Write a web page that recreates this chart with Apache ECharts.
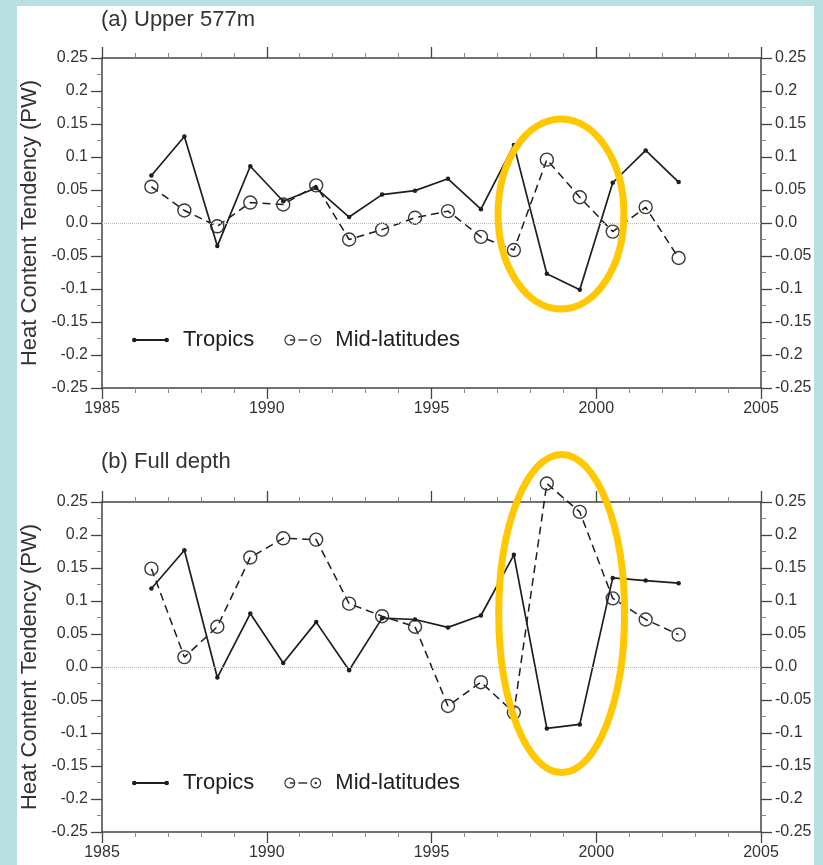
<!DOCTYPE html>
<html lang="en">
  <head>
    <meta charset="UTF-8" />
    <title>Heat Content Tendency</title>
    <script src="https://cdn.jsdelivr.net/npm/echarts@6/dist/echarts.min.js"></script>
    <style>
      html, body { margin: 0; padding: 0; background: #b8dfe2; }
      #panel {
        position: absolute; left: 17px; top: 6px;
        width: 797px; height: 859px; background: #fff;
      }
      #main { position: absolute; left: 0; top: 0; width: 823px; height: 865px; }
    </style>
  </head>
  <body>
    <div id="panel"></div>
    <div id="main"></div>
    <script>
      // mid-year positions of the annual values
      var years = [1986.5, 1987.5, 1988.5, 1989.5, 1990.5, 1991.5, 1992.5, 1993.5, 1994.5,
                   1995.5, 1996.5, 1997.5, 1998.5, 1999.5, 2000.5, 2001.5, 2002.5];

      // (a) Upper 577m
      var upperTropics = [0.072, 0.131, -0.035, 0.086, 0.033, 0.053, 0.009, 0.043, 0.049,
                          0.067, 0.021, 0.118, -0.077, -0.101, 0.061, 0.110, 0.062];
      var upperMid = [0.055, 0.019, -0.005, 0.031, 0.028, 0.057, -0.025, -0.010, 0.008,
                      0.018, -0.021, -0.041, 0.096, 0.039, -0.013, 0.024, -0.053];

      // (b) Full depth
      var fullTropics = [0.119, 0.177, -0.016, 0.081, 0.006, 0.068, -0.005, 0.074, 0.072,
                         0.060, 0.078, 0.170, -0.093, -0.087, 0.135, 0.131, 0.127];
      var fullMid = [0.149, 0.015, 0.061, 0.166, 0.195, 0.193, 0.096, 0.077, 0.061,
                     -0.059, -0.023, -0.069, 0.278, 0.235, 0.104, 0.072, 0.049];

      var panelTitles = ["(a) Upper 577m", "(b) Full depth"];
      var seriesNames = ["Tropics", "Mid-latitudes"];

      // highlight ellipses: [centre year, centre value, half-width (years), half-height (PW)]
      var highlights = [
        [1998.93, 0.0136, 1.91, 0.144],
        [1998.95, 0.081, 1.91, 0.241]
      ];

      var FONT = "Liberation Sans, Arial, Helvetica, sans-serif";
      var INK = "#1e1e1e";
      var AXIS = "#444";

      function pair(xs, ys) {
        return xs.map(function (x, i) { return [x, ys[i]]; });
      }

      function yFmt(v) {
        var n = Number(v.toFixed(2));
        return n === 0 ? "0.0" : String(n);
      }

      // legend icons: all filled sub-paths run clockwise, ring holes anticlockwise
      var tropIcon = "path://M0,6a2.3,2.3 0 1,1 4.6,0a2.3,2.3 0 1,1 -4.6,0z" +
        "M32.4,6a2.3,2.3 0 1,1 4.6,0a2.3,2.3 0 1,1 -4.6,0z M2.3,5.1h32.4v1.8h-32.4z";
      var midIcon = "path://M0,6a5.5,5.5 0 1,1 11,0a5.5,5.5 0 1,1 -11,0z" +
        "M1.2,6a4.3,4.3 0 1,0 8.6,0a4.3,4.3 0 1,0 -8.6,0z" +
        "M5.5,5.2h5v1.6h-5z M14,5.2h9v1.6h-9z" +
        "M26,6a5.5,5.5 0 1,1 11,0a5.5,5.5 0 1,1 -11,0z" +
        "M27.2,6a4.3,4.3 0 1,0 8.6,0a4.3,4.3 0 1,0 -8.6,0z" +
        "M30.2,6a1.3,1.3 0 1,1 2.6,0a1.3,1.3 0 1,1 -2.6,0z";

      var grids = [
        { left: 102, width: 659, top: 58, height: 330 },
        { left: 102, width: 659, top: 502, height: 330 }
      ];

      function xAxisFor(gi, pos) {
        return {
          type: "value", gridIndex: gi, position: pos,
          min: 1985, max: 2005, interval: 5,
          axisLine: { onZero: false, lineStyle: { color: AXIS, width: 1.5 } },
          axisTick: { show: true, length: 11, lineStyle: { color: AXIS, width: 1.3 } },
          minorTick: { show: true, splitNumber: 5, length: 5, lineStyle: { color: "#888", width: 1 } },
          axisLabel: {
            show: pos === "bottom", margin: 13, color: "#333",
            fontFamily: FONT, fontSize: 16,
            formatter: function (v) { return String(v); }
          },
          splitLine: { show: false }
        };
      }

      function yAxisFor(gi, pos) {
        return {
          type: "value", gridIndex: gi, position: pos,
          min: -0.25, max: 0.25, interval: 0.05,
          name: pos === "left" ? "Heat Content Tendency (PW)" : "",
          nameLocation: "middle", nameGap: 61,
          nameTextStyle: { color: "#333", fontFamily: FONT, fontSize: 22 },
          axisLine: { onZero: false, lineStyle: { color: AXIS, width: 1.5 } },
          axisTick: { show: true, length: 11, lineStyle: { color: AXIS, width: 1.3 } },
          minorTick: { show: true, splitNumber: 2, length: 5, lineStyle: { color: "#888", width: 1 } },
          axisLabel: {
            margin: 14, color: "#333", fontFamily: FONT, fontSize: 16,
            formatter: yFmt
          },
          splitLine: { show: false }
        };
      }

      function tropSeries(idx, vals) {
        return {
          name: seriesNames[0], type: "line",
          xAxisIndex: idx * 2, yAxisIndex: idx * 2,
          data: pair(years, vals),
          symbol: "circle", symbolSize: 4.5, clip: false,
          itemStyle: { color: INK },
          lineStyle: { color: INK, width: 1.7 },
          markLine: {
            silent: true, symbol: "none", animation: false,
            label: { show: false },
            lineStyle: { color: "#bbb", type: "dotted", width: 1 },
            data: [{ yAxis: 0 }]
          },
          z: 3
        };
      }

      function midSeries(idx, vals) {
        return {
          name: seriesNames[1], type: "line",
          xAxisIndex: idx * 2, yAxisIndex: idx * 2,
          data: pair(years, vals),
          symbol: "circle", symbolSize: 13, clip: false,
          itemStyle: { color: "transparent", borderColor: "#3a3a3a", borderWidth: 1.4 },
          lineStyle: { color: INK, width: 1.5, type: [8, 5] },
          z: 2
        };
      }

      function legendFor(top) {
        return {
          left: 132, top: top, padding: 0, orient: "horizontal",
          itemWidth: 37, itemHeight: 11, itemGap: 30,
          textStyle: {
            color: INK, fontFamily: FONT, fontSize: 22, padding: [0, 0, 0, 9]
          },
          data: [
            { name: seriesNames[0], icon: tropIcon, itemStyle: { color: INK, borderWidth: 0 } },
            { name: seriesNames[1], icon: midIcon, itemStyle: { color: "#3a3a3a", borderWidth: 0 } }
          ],
          selectedMode: false
        };
      }

      var chart = echarts.init(document.getElementById("main"), null, { renderer: "canvas" });

      var option = {
        animation: false,
        backgroundColor: "transparent",
        title: [
          { text: panelTitles[0], left: 101, top: 9, padding: 0,
            textStyle: { color: "#333", fontFamily: FONT, fontSize: 22, fontWeight: "normal" } },
          { text: panelTitles[1], left: 101, top: 451, padding: 0,
            textStyle: { color: "#333", fontFamily: FONT, fontSize: 22, fontWeight: "normal" } }
        ],
        legend: [legendFor(329), legendFor(772)],
        grid: grids,
        xAxis: [xAxisFor(0, "bottom"), xAxisFor(0, "top"), xAxisFor(1, "bottom"), xAxisFor(1, "top")],
        yAxis: [yAxisFor(0, "left"), yAxisFor(0, "right"), yAxisFor(1, "left"), yAxisFor(1, "right")],
        series: [
          tropSeries(0, upperTropics), midSeries(0, upperMid),
          tropSeries(1, fullTropics), midSeries(1, fullMid)
        ]
      };

      chart.setOption(option);

      // yellow highlight ellipses placed from data coordinates
      var ellipses = highlights.map(function (h, gi) {
        var c = chart.convertToPixel({ xAxisIndex: gi * 2, yAxisIndex: gi * 2 }, [h[0], h[1]]);
        var e = chart.convertToPixel({ xAxisIndex: gi * 2, yAxisIndex: gi * 2 }, [h[0] + h[2], h[1] + h[3]]);
        return {
          type: "ellipse", z: 100, silent: true,
          shape: { cx: c[0], cy: c[1], rx: Math.abs(e[0] - c[0]), ry: Math.abs(c[1] - e[1]) },
          style: { fill: null, stroke: "#ffc800", lineWidth: 7 }
        };
      });
      chart.setOption({ graphic: ellipses });
    </script>
  </body>
</html>
